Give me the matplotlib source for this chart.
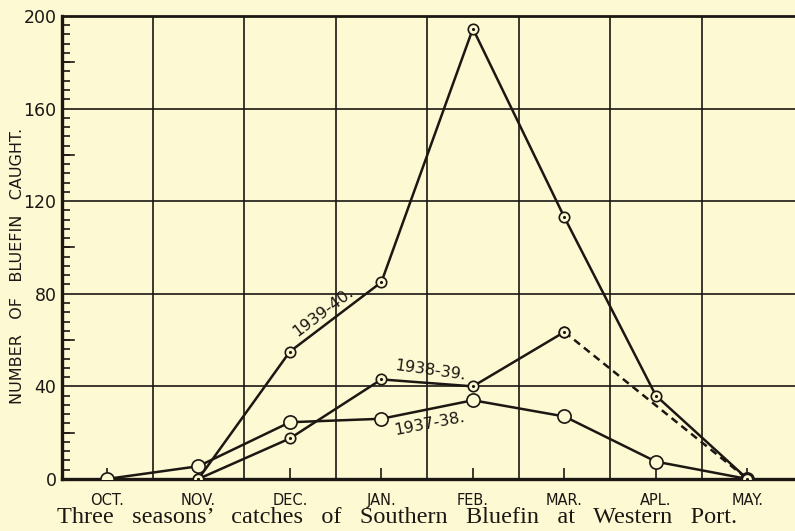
import numpy as np
import matplotlib
matplotlib.use('Agg')
import matplotlib.pyplot as plt
from matplotlib.ticker import MultipleLocator

# data
months = ['OCT.', 'NOV.', 'DEC.', 'JAN.', 'FEB.', 'MAR.', 'APL.', 'MAY.']
c1937 = [0, 5.5, 24.5, 26, 34, 27, 7.5, 0]
c1938 = [np.nan, 0, 17.5, 43, 40, 63.5, np.nan, np.nan]
dash_months = [5, 7]          # MAR -> MAY, dashed part of 1938-39
c1938_dash = [63.5, 0]
c1939 = [np.nan, 0, 55, 85, 194.5, 113, 36, 0]
yticks = [0, 40, 80, 120, 160, 200]

ink = '#1c1712'
bg = '#fcf9d3'
plt.rcParams['font.family'] = ['DejaVu Sans']

fig = plt.figure(figsize=(7.95, 5.31), dpi=100, facecolor=bg)
ax = fig.add_axes([0.078, 0.098, 0.922, 0.872], facecolor=bg)

x = np.arange(len(months))
ax.set_xlim(-0.49, 7.52)
ax.set_ylim(0, 200)

# grid
for g in [40, 80, 120, 160]:
    ax.axhline(g, color=ink, lw=1.2, zorder=1)
for g in np.arange(0.5, 7.0, 1):
    ax.axvline(g, color=ink, lw=1.2, zorder=1)

ax.plot(x, c1937, color=ink, lw=1.8, marker='o', ms=9.5, mfc=bg, mec=ink, mew=1.2, zorder=3)
ax.plot(x, c1938, color=ink, lw=1.8, marker='o', ms=7.5, mfc=bg, mec=ink, mew=1.2, zorder=3)
ax.plot(dash_months, c1938_dash, color=ink, lw=1.8, ls=(0, (3, 2)), marker='o', ms=7.5,
        mfc=bg, mec=ink, mew=1.2, zorder=3)
ax.plot(x, c1939, color=ink, lw=1.8, marker='o', ms=7.5, mfc=bg, mec=ink, mew=1.2, zorder=4)
ax.plot(x, c1938, ls='none', marker='.', ms=2.5, color=ink, zorder=5)
ax.plot(x, c1939, ls='none', marker='.', ms=2.5, color=ink, zorder=5)

ax.text(2.36, 72, '1939-40.', rotation=37, ha='center', va='center', fontsize=11.5, color=ink)
ax.text(3.54, 47, '1938-39.', rotation=-8, ha='center', va='center', fontsize=11.5, color=ink)
ax.text(3.53, 24.0, '1937-38.', rotation=11, ha='center', va='center', fontsize=11.5, color=ink)

# axes styling
ax.spines['right'].set_visible(False)
ax.spines['left'].set_linewidth(2.4)
ax.spines['bottom'].set_linewidth(2.4)
ax.spines['top'].set_linewidth(2.0)
for s in ['left', 'bottom', 'top']:
    ax.spines[s].set_color(ink)

ax.set_xticks(x)
ax.set_xticklabels(months, fontsize=10.5, color=ink)
ax.tick_params(axis='x', direction='in', length=8, width=1.2, color=ink, pad=10)
ax.set_yticks(yticks)
ax.set_yticklabels([str(v) for v in yticks], fontsize=12.5, color=ink)
ax.yaxis.set_minor_locator(MultipleLocator(4))
ax.tick_params(axis='y', which='major', direction='in', length=0, pad=4)
ax.tick_params(axis='y', which='minor', direction='in', length=6, width=1.2, color=ink)
for v in range(20, 200, 40):
    ax.plot([-0.49, -0.49 + 0.13], [v, v], color=ink, lw=1.2, clip_on=False, zorder=2)

fig.text(0.022, 0.499, 'NUMBER   OF   BLUEFIN   CAUGHT.', rotation=90, ha='center', va='center',
         fontsize=11.5, color=ink)

fig.text(0.5, 0.015, 'Three   seasons\u2019   catches   of   Southern   Bluefin   at   Western   Port.',
         ha='center', va='baseline', fontsize=17.5, family='Liberation Serif', color=ink)

fig.savefig('out.png', dpi=100, facecolor=bg)
